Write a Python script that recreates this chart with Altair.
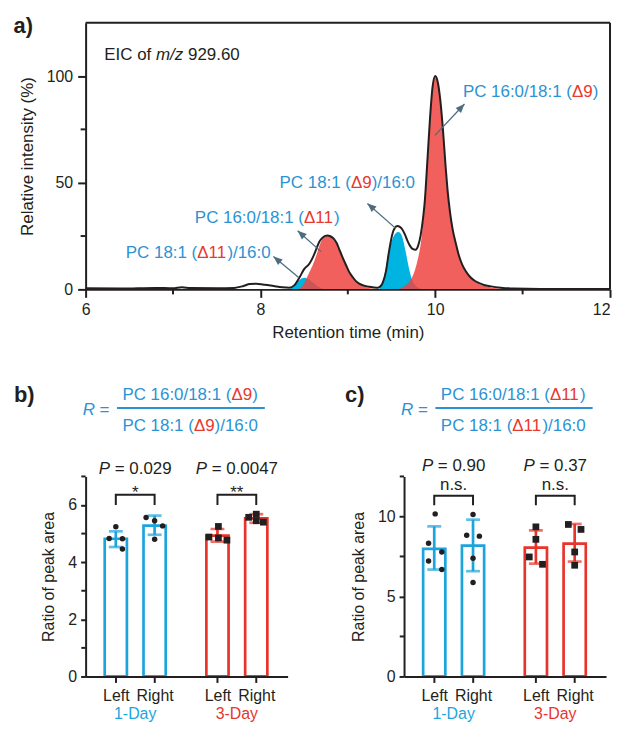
import math
import altair as alt
import pandas as pd

FONT = "Liberation Sans"
BLACK = "#231F20"
TXT_BLUE = "#2B93D4"
TXT_RED = "#E8392F"
BAR_BLUE = "#1CA4DD"
BAR_RED = "#E8342B"
FILL_BLUE = "#00B4E1"
FILL_RED = "#EE4440"
ARROW_COL = "#4E6C80"

# ---------------- a) chromatogram: (time, intensity) ----------------
envelope = [(6.0, 0.5), (6.4, 0.4), (6.8, 0.7), (7.0, 0.5), (7.1, 1.0), (7.2, 0.6), (7.5, 0.5),
            (7.7, 0.7), (7.8, 1.5), (7.88, 2.5), (7.95, 2.6), (8.05, 2.2), (8.15, 1.6), (8.25, 1.0),
            (8.33, 0.8), (8.39, 2.0), (8.45, 5.8), (8.5, 9.5), (8.56, 12.0), (8.6, 15.0), (8.64, 19.0),
            (8.67, 22.0), (8.705, 24.0), (8.74, 25.1), (8.77, 25.3), (8.8, 24.9), (8.845, 23.5),
            (8.875, 21.5), (8.9, 19.0), (8.94, 15.0), (8.98, 11.3), (9.015, 8.2), (9.055, 5.8),
            (9.09, 4.0), (9.13, 2.7), (9.18, 1.8), (9.24, 1.2), (9.3, 0.9), (9.34, 0.8), (9.37, 1.3),
            (9.4, 3.2), (9.435, 8.2), (9.47, 17.5), (9.51, 26.0), (9.54, 29.0), (9.567, 29.7),
            (9.595, 29.3), (9.624, 28.1), (9.65, 26.0), (9.68, 23.0), (9.71, 20.5), (9.74, 19.0),
            (9.776, 18.6), (9.805, 20.5), (9.833, 25.3), (9.86, 33.0), (9.88, 41.0), (9.91, 60.0),
            (9.94, 80.0), (9.97, 95.0), (10.0, 100.0), (10.03, 97.0), (10.06, 88.0), (10.09, 74.0),
            (10.12, 57.0), (10.14, 47.0), (10.17, 36.0), (10.2, 28.0), (10.23, 22.5), (10.27, 16.0),
            (10.31, 11.5), (10.35, 8.5), (10.4, 5.8), (10.46, 3.8), (10.55, 2.2), (10.64, 1.4),
            (10.75, 0.8), (10.9, 0.4), (11.2, 0.2), (12.0, 0.2)]
peak_blue_85 = [(8.3, 0), (8.36, 0.8), (8.41, 2.7), (8.45, 4.5), (8.5, 5.5), (8.55, 4.8), (8.6, 3.2),
                (8.65, 1.6), (8.7, 0.5), (8.75, 0)]
peak_red_88 = [(8.42, 0), (8.48, 1.5), (8.52, 4.5), (8.56, 8), (8.6, 11.5), (8.64, 16), (8.68, 21),
               (8.72, 24.3), (8.76, 25.5), (8.8, 25.0), (8.84, 23.6), (8.88, 20.8), (8.92, 17),
               (8.96, 13), (9.0, 9.4), (9.04, 6.4), (9.08, 4.2), (9.13, 2.4), (9.2, 1.0), (9.3, 0.3),
               (9.4, 0)]
peak_blue_96 = [(9.36, 0), (9.4, 3.5), (9.435, 10), (9.47, 17.7), (9.51, 23.5), (9.545, 26.2),
                (9.58, 26.9), (9.615, 25.5), (9.64, 21.8), (9.665, 17.0), (9.7, 9.8), (9.74, 4.0),
                (9.79, 1.2), (9.85, 0)]
peak_red_10 = [(9.55, 0), (9.62, 0.8), (9.68, 2.5), (9.72, 4.5), (9.76, 8), (9.8, 14), (9.833, 21),
               (9.86, 31), (9.88, 41), (9.91, 60), (9.94, 80), (9.97, 95), (10.0, 100), (10.03, 97),
               (10.06, 88), (10.09, 74), (10.12, 57), (10.14, 47), (10.17, 36), (10.2, 28),
               (10.23, 22.5), (10.27, 16), (10.31, 11.5), (10.35, 8.5), (10.4, 5.6), (10.46, 3.5),
               (10.55, 1.8), (10.64, 0.9), (10.75, 0.3), (10.9, 0)]

a_x_ticks = [6, 8, 10, 12]
a_x_minor = [7, 9, 11]
a_y_ticks = [0, 50, 100]
a_y_minor = [25, 75]

arrow_from_t = [9.997, 9.548, 8.693, 8.438]
arrow_from_i = [72.2, 28.6, 17.7, 5.6]
arrow_to_t = [10.335, 9.224, 8.426, 8.149]
arrow_to_i = [86.9, 40.3, 27.5, 15.4]

label_t = [10.317, 8.219, 7.25, 6.46]
label_i = [90.3, 47.6, 30.9, 14.8]
label_parts = [
    [("PC 16:0/18:1 (", "b"), ("Δ9", "r"), (")", "b")],
    [("PC 18:1 (", "b"), ("Δ9", "r"), (")/16:0", "b")],
    [("PC 16:0/18:1 (", "b"), ("Δ11", "r"), (")", "b")],
    [("PC 18:1 (", "b"), ("Δ11", "r"), (")/16:0", "b")],
]
eic_t, eic_i = 6.214, 107.7
eic_parts = [("EIC of ", "normal"), ("m/z", "italic"), (" 929.60", "normal")]

# ---------------- b) and c) ----------------
side_labels = ["Left", "Right", "Left", "Right"]
day_labels = ["1-Day", "3-Day"]
p_prefix = "P"

b_mean = [4.82, 5.28, 4.93, 5.53]
b_low = [4.53, 4.96, 4.72, 5.38]
b_high = [5.08, 5.63, 5.16, 5.68]
b_points = [[(0, 5.24), (-7, 4.83), (7, 4.82), (7, 4.46)],
            [(-9, 5.56), (0, 5.45), (8.5, 5.27), (0, 4.80)],
            [(1, 5.25), (-9, 4.88), (1, 4.85), (10, 4.77)],
            [(-8, 5.57), (0, 5.68), (7.5, 5.40), (0, 5.45)]]
b_bracket = (6.0, 6.36)
b_sig = ["*", "**"]
b_p = ["0.029", "0.0047"]
b_y_ticks = [0, 2, 4, 6]
b_y_minor = [1, 3, 5, 7]

c_mean = [7.97, 8.18, 8.05, 8.30]
c_low = [6.68, 6.58, 7.05, 7.18]
c_high = [9.38, 9.80, 9.13, 9.53]
c_points = [[(1, 10.16), (-6, 8.32), (8, 7.78), (-6, 7.22), (8, 6.68)],
            [(0, 10.12), (-6.7, 8.82), (6.7, 8.77), (0, 7.39), (0, 5.87)],
            [(0, 9.35), (0, 8.57), (-7, 7.47), (7, 7.01)],
            [(-6.7, 9.50), (6.7, 9.19), (0, 7.78), (0, 6.95)]]
c_bracket = (10.7, 11.3)
c_sig = ["n.s.", "n.s."]
c_p = ["0.90", "0.37"]
c_y_ticks = [0, 5, 10]
c_y_minor = [2.5, 7.5, 12.5]

# ---------------- helpers ----------------
ARIAL_W = {' ': 278, 'P': 667, 'C': 722, ':': 278, '/': 278, '(': 333, ')': 333, 'Δ': 668,
           'E': 667, 'I': 278, 'o': 556, 'f': 278, 'm': 833, 'z': 500, '.': 278, 'R': 722,
           '=': 584, 'n': 556, 's': 500, '*': 389}
for d in "0123456789":
    ARIAL_W[d] = 556


def tw(s, fs):
    return sum(ARIAL_W.get(ch, 556) for ch in s) * fs / 1000.0


ONE = pd.DataFrame({"k": [0]})
COLS = {"b": TXT_BLUE, "r": TXT_RED}


def rich(data, x, y, segs, fs, center=False):
    """segs: list of (text, color, style); leading spaces become offsets (SVG drops them)."""
    total = sum(tw(s, fs) for s, _, _ in segs)
    off = -total / 2.0 if center else 0.0
    out = []
    for s, col, style in segs:
        body = s.lstrip(" ")
        off += tw(s[:len(s) - len(body)], fs)
        out.append(alt.Chart(data).mark_text(
            text=body, align="left", baseline="alphabetic", dx=off, font=FONT,
            fontSize=fs, fontStyle=style, color=col).encode(x=x, y=y))
        off += tw(body, fs)
    return out


def axis_common(**kw):
    base = dict(domainColor=BLACK, domainWidth=2, tickColor=BLACK, tickWidth=2,
                labelColor=BLACK, labelFont=FONT, labelFontSize=16, titleFont=FONT,
                titleColor=BLACK, titleFontWeight="normal", grid=False, zindex=1,
                labelFlush=False, labelOverlap=False)
    base.update(kw)
    return alt.Axis(**base)


# ---------------- panel a ----------------
AW, AH = 527, 268
ax_scale = alt.Scale(domain=[6, 12], nice=False, zero=False)
ay_scale = alt.Scale(domain=[0, 125], nice=False, zero=True)
ax_axis = axis_common(values=a_x_ticks, tickSize=8, labelPadding=4, title="Retention time (min)",
                      titleFontSize=17, titlePadding=7,
                      labelAlign=alt.condition(f"datum.value == {a_x_ticks[-1]}",
                                               alt.value("right"), alt.value("center")))
ay_axis = axis_common(values=a_y_ticks, tickSize=8, labelPadding=5, title="Relative intensity (%)",
                      titleFontSize=17, titlePadding=10)


def XA(f="t"):
    return alt.X(f"{f}:Q", scale=ax_scale, axis=ax_axis)


def YA(f="I"):
    return alt.Y(f"{f}:Q", scale=ay_scale, axis=ay_axis)


def cdf(pairs):
    return pd.DataFrame(pairs, columns=["t", "I"])


A = []
A.append(alt.Chart(cdf(peak_blue_85)).mark_area(color=FILL_BLUE, interpolate="monotone").encode(x=XA(), y=YA()))
A.append(alt.Chart(cdf(peak_blue_96)).mark_area(color=FILL_BLUE, interpolate="monotone").encode(x=XA(), y=YA()))
A.append(alt.Chart(cdf(peak_red_88)).mark_area(color=FILL_RED, opacity=0.85, interpolate="monotone").encode(x=XA(), y=YA()))
A.append(alt.Chart(cdf(peak_red_10)).mark_area(color=FILL_RED, opacity=0.85, interpolate="monotone").encode(x=XA(), y=YA()))
A.append(alt.Chart(cdf(envelope)).mark_line(color=BLACK, strokeWidth=2, interpolate="monotone").encode(x=XA(), y=YA()))
# minor ticks
A.append(alt.Chart(pd.DataFrame({"t": a_x_minor})).mark_rule(color=BLACK, strokeWidth=2).encode(
    x=XA(), y=alt.value(AH), y2=alt.value(AH + 5)))
A.append(alt.Chart(pd.DataFrame({"I": a_y_minor})).mark_rule(color=BLACK, strokeWidth=2).encode(
    y=YA(), x=alt.value(-5), x2=alt.value(0)))
# frame top/right
A.append(alt.Chart(ONE).mark_rule(color=BLACK, strokeWidth=2).encode(
    x=alt.value(0), x2=alt.value(AW), y=alt.value(0)))
A.append(alt.Chart(ONE).mark_rule(color=BLACK, strokeWidth=2).encode(
    x=alt.value(AW), y=alt.value(0), y2=alt.value(AH)))
# arrows
ppx, ppy = AW / 6.0, AH / 125.0
arr = pd.DataFrame({"t": arrow_from_t, "I": arrow_from_i, "t2": arrow_to_t, "I2": arrow_to_i})
arr["ang"] = [math.degrees(math.atan2((t1 - t0) * ppx, (i1 - i0) * ppy)) % 360
              for t0, i0, t1, i1 in zip(arrow_from_t, arrow_from_i, arrow_to_t, arrow_to_i)]
A.append(alt.Chart(arr).mark_rule(color=ARROW_COL, strokeWidth=1.3).encode(
    x=XA(), y=YA(), x2="t2:Q", y2="I2:Q"))
heads = pd.DataFrame({"t": arrow_to_t, "I": arrow_to_i, "ang": arr["ang"]})
A.append(alt.Chart(heads).mark_point(shape="M0,0L-0.45,1.1L0.45,1.1Z", filled=True, size=270,
                                     color=ARROW_COL, opacity=1, strokeWidth=0).encode(
    x=XA(), y=YA(), angle=alt.Angle("ang:Q", scale=None)))
# peak labels
for lt, li, parts in zip(label_t, label_i, label_parts):
    d = pd.DataFrame({"t": [lt], "I": [li]})
    A += rich(d, XA(), YA(), [(s, COLS[c], "normal") for s, c in parts], 17)
# EIC text
A += rich(pd.DataFrame({"t": [eic_t], "I": [eic_i]}), XA(), YA(),
          [(s, BLACK, st) for s, st in eic_parts], 17)
A.append(alt.Chart(ONE).mark_text(text="a)", align="left", baseline="alphabetic", font=FONT,
                                  fontSize=22, fontWeight="bold", color=BLACK).encode(
    x=alt.value(-72.5), y=alt.value(10.7)))
panel_a = alt.layer(*A).properties(width=AW, height=AH)

# ---------------- panels b, c ----------------
BW, BH = 203, 201
POS = [1.0, 2.0, 3.62, 4.62]
GROUP_MID = [1.5, 4.12]
XDOM = [0.35, 5.3]
PXU = BW / (XDOM[1] - XDOM[0])
COND_COL = [BAR_BLUE, BAR_BLUE, BAR_RED, BAR_RED]
DAY_COL = [BAR_BLUE, BAR_RED]

label_expr = "''"
for p, lab in reversed(list(zip(POS, side_labels))):
    label_expr = f"datum.value == {p} ? '{lab}' : ({label_expr})"


def bar_panel(letter, letter_x, num_parts, den_parts, ydom, ymajor, yminor, means, lows, highs,
              points, bracket, sig, sig_dy, pvals, p_y):
    xs = alt.Scale(domain=XDOM, nice=False, zero=False)
    ys = alt.Scale(domain=ydom, nice=False, zero=True)
    xax = axis_common(values=POS, labelExpr=label_expr, tickSize=6, labelPadding=5, title=None)
    yax = axis_common(values=ymajor, tickSize=5, labelPadding=4, title="Ratio of peak area",
                      titleFontSize=16, titlePadding=11)

    def X(f="pos"):
        return alt.X(f"{f}:Q", scale=xs, axis=xax)

    def Y(f="v"):
        return alt.Y(f"{f}:Q", scale=ys, axis=yax)

    L = []
    bars = pd.DataFrame({"pos": POS, "v": means, "c": COND_COL})
    L.append(alt.Chart(bars).mark_bar(orient="vertical", width=22.3, fill="white", strokeWidth=2.7,
                                      strokeJoin="miter").encode(
        x=X(), y=Y(), stroke=alt.Stroke("c:N", scale=None)))
    err = pd.DataFrame({"pos": POS, "lo": lows, "hi": highs, "c": COND_COL})
    L.append(alt.Chart(err).mark_rule(strokeWidth=2.7).encode(
        x=X(), y=Y("lo"), y2="hi:Q", color=alt.Color("c:N", scale=None)))
    caps = pd.DataFrame({"pos": POS + POS, "v": lows + highs, "c": COND_COL + COND_COL})
    L.append(alt.Chart(caps).mark_tick(orient="horizontal", size=14, thickness=2.7).encode(
        x=X(), y=Y(), color=alt.Color("c:N", scale=None)))
    rows = []
    for gi, pts in enumerate(points):
        for jit, val in pts:
            rows.append({"pos": POS[gi] + jit / PXU, "v": val,
                         "shape": "circle" if gi < 2 else "square",
                         "sz": 30 if gi < 2 else 46})
    L.append(alt.Chart(pd.DataFrame(rows)).mark_point(filled=True, opacity=1, color=BLACK,
                                                      strokeWidth=0).encode(
        x=X(), y=Y(), shape=alt.Shape("shape:N", scale=None), size=alt.Size("sz:Q", scale=None)))
    # brackets
    br = []
    for g in range(2):
        l, r = POS[2 * g], POS[2 * g + 1]
        for o, (px, pv) in enumerate([(l, bracket[0]), (l, bracket[1]), (r, bracket[1]), (r, bracket[0])]):
            br.append({"g": g, "o": o, "pos": px, "v": pv})
    L.append(alt.Chart(pd.DataFrame(br)).mark_line(color=BLACK, strokeWidth=2).encode(
        x=X(), y=Y(), detail="g:N", order="o:Q"))
    for g in range(2):
        d = pd.DataFrame({"pos": [GROUP_MID[g]], "v": [bracket[1]]})
        L.append(alt.Chart(d).mark_text(text=sig[g], align="center", baseline="alphabetic", dy=sig_dy,
                                        font=FONT, fontSize=17, color=BLACK).encode(x=X(), y=Y()))
        L += rich(pd.DataFrame({"pos": [GROUP_MID[g]]}), X(), alt.value(p_y),
                  [(p_prefix, BLACK, "italic"), (" = " + pvals[g], BLACK, "normal")], 17, center=True)
        L.append(alt.Chart(pd.DataFrame({"pos": [GROUP_MID[g]]})).mark_text(
            text=day_labels[g], align="center", baseline="alphabetic", font=FONT, fontSize=16,
            color=DAY_COL[g]).encode(x=X(), y=alt.value(BH + 42.5)))
    L.append(alt.Chart(pd.DataFrame({"v": yminor})).mark_rule(color=BLACK, strokeWidth=2).encode(
        y=Y(), x=alt.value(-4.3), x2=alt.value(0)))
    # formula
    L += rich(ONE, alt.value(-3), alt.value(-61.5),
              [("R", TXT_BLUE, "italic"), (" =", TXT_BLUE, "normal")], 17)
    num_w = sum(tw(s, 17) for s, _ in num_parts)
    L.append(alt.Chart(ONE).mark_rule(color=TXT_BLUE, strokeWidth=2).encode(
        x=alt.value(31.5), x2=alt.value(37 + num_w + 7), y=alt.value(-68.8)))
    L += rich(ONE, alt.value(37), alt.value(-77.3), [(s, COLS[c], "normal") for s, c in num_parts], 17)
    L += rich(ONE, alt.value(37), alt.value(-45.7), [(s, COLS[c], "normal") for s, c in den_parts], 17)
    L.append(alt.Chart(ONE).mark_text(text=letter, align="left", baseline="alphabetic", font=FONT,
                                      fontSize=22, fontWeight="bold", color=BLACK).encode(
        x=alt.value(letter_x), y=alt.value(-74.5)))
    return alt.layer(*L).properties(width=BW, height=BH)


panel_b = bar_panel("b)", -72, label_parts[0], label_parts[1], [0, 7], b_y_ticks, b_y_minor,
                    b_mean, b_low, b_high, b_points, b_bracket, b_sig, 3, b_p, -2)
panel_c = bar_panel("c)", -59.3, label_parts[2], label_parts[3], [0, 12.5], c_y_ticks, c_y_minor,
                    c_mean, c_low, c_high, c_points, c_bracket, c_sig, -6, c_p, -5)

chart = alt.vconcat(
    panel_a,
    alt.hconcat(panel_b, panel_c, spacing=57),
    spacing=44,
).properties(padding={"left": 5, "top": 5, "right": 0, "bottom": 0}).configure_view(stroke=None)

chart.save("out.html", embed_options={"renderer": "svg", "actions": False})
